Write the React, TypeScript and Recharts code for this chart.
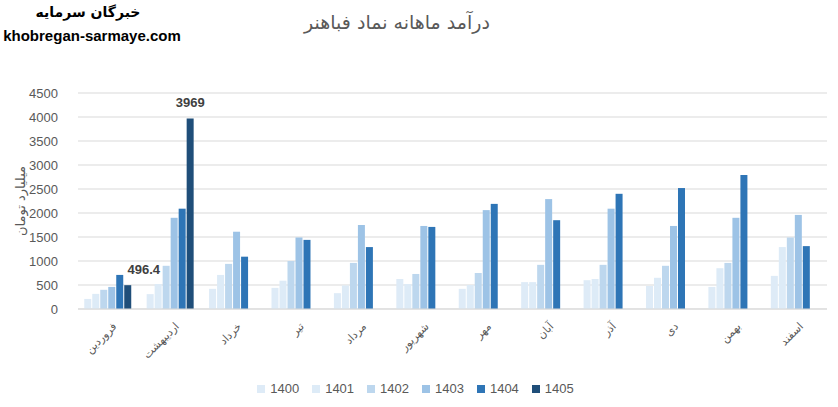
import React from "react";
import {
  BarChart,
  Bar,
  XAxis,
  YAxis,
  CartesianGrid,
  Legend,
  LabelList,
  Label,
} from "recharts";

const months = [
  "فروردین",
  "اردیبهشت",
  "خرداد",
  "تیر",
  "مرداد",
  "شهریور",
  "مهر",
  "آبان",
  "آذر",
  "دی",
  "بهمن",
  "اسفند",
];

const y1400 = [210, 310, 420, 440, 330, 625, 420, 560, 600, 480, 460, 690];
const y1401 = [315, 520, 710, 590, 490, 520, 500, 560, 625, 650, 850, 1290];
const y1402 = [400, 900, 940, 1000, 960, 730, 750, 920, 920, 900, 960, 1490];
const y1403 = [460, 1900, 1610, 1490, 1750, 1730, 2060, 2290, 2090, 1730, 1900, 1960];
const y1404 = [710, 2090, 1090, 1440, 1290, 1710, 2190, 1850, 2400, 2520, 2790, 1310];
const y1405 = [496.4, 3969, null, null, null, null, null, null, null, null, null, null];

const yTicks = [0, 500, 1000, 1500, 2000, 2500, 3000, 3500, 4000, 4500];

const SERIES = [
  { key: "1400", values: y1400, color: "#DEEBF7" },
  { key: "1401", values: y1401, color: "#DDEBF7" },
  { key: "1402", values: y1402, color: "#BDD7EE" },
  { key: "1403", values: y1403, color: "#9DC3E6" },
  { key: "1404", values: y1404, color: "#2E75B6" },
  { key: "1405", values: y1405, color: "#1F4E79" },
];

const data = months.map((month, i) => {
  const row: { [key: string]: any } = { month };
  SERIES.forEach((s) => {
    row[s.key] = s.values[i];
  });
  return row;
});

const FA_FONT = "'DejaVu Sans', sans-serif";
const NUM_FONT = "'Liberation Sans', Arial, sans-serif";

function MonthTick(props: any) {
  const { x, y, payload } = props;
  return (
    <g transform={`translate(${x + 6},${y + 8})`}>
      <text
        transform="rotate(-45)"
        textAnchor="end"
        dominantBaseline="middle"
        fill="#595959"
        fontSize={11}
        fontFamily={FA_FONT}
      >
        {payload.value}
      </text>
    </g>
  );
}

function ValueLabel(props: any) {
  const { x, y, width, value, index } = props;
  if (value == null) return null;
  // the first label sits to the right of its bar, as in the source
  const dx = index === 0 ? 16 : 0;
  return (
    <text
      x={x + width / 2 + dx}
      y={y - 11}
      textAnchor="middle"
      fill="#404040"
      fontSize={13}
      fontWeight="bold"
      fontFamily={NUM_FONT}
    >
      {value}
    </text>
  );
}

function LegendContent() {
  return (
    <div
      style={{
        display: "flex",
        justifyContent: "center",
        gap: 13,
        paddingLeft: 4,
        fontFamily: NUM_FONT,
        fontSize: 13,
        color: "#595959",
      }}
    >
      {SERIES.map((s) => (
        <div key={s.key} style={{ display: "flex", alignItems: "center" }}>
          <span
            style={{
              width: 8,
              height: 8,
              background: s.color,
              display: "inline-block",
              marginRight: 5,
            }}
          />
          <span>{s.key}</span>
        </div>
      ))}
    </div>
  );
}

export default function App() {
  return (
    <div style={{ position: "relative", width: 838, height: 407, background: "#fff" }}>
      <style>{"body{margin:0}"}</style>
      <BarChart
        width={838}
        height={407}
        data={data}
        margin={{ top: 93, right: 11, bottom: 6, left: 0 }}
        barCategoryGap="10%"
        barGap={1}
      >
        <text
          x={88}
          y={17}
          textAnchor="middle"
          fontFamily={FA_FONT}
          fontWeight="bold"
          fontSize={14}
          fill="#000"
        >
          خبرگان سرمایه
        </text>
        <text
          x={92}
          y={41}
          textAnchor="middle"
          fontFamily={NUM_FONT}
          fontWeight="bold"
          fontSize={15}
          fill="#000"
        >
          khobregan-sarmaye.com
        </text>
        <text
          x={397}
          y={29}
          textAnchor="middle"
          fontFamily={FA_FONT}
          fontSize={19}
          fill="#595959"
        >
          درآمد ماهانه نماد فباهنر
        </text>
        <CartesianGrid vertical={false} stroke="#D9D9D9" />
        <XAxis
          dataKey="month"
          tickLine={false}
          axisLine={{ stroke: "#D9D9D9" }}
          interval={0}
          height={72}
          tick={<MonthTick />}
        />
        <YAxis
          width={78}
          ticks={yTicks}
          domain={[0, 4500]}
          axisLine={false}
          tickLine={false}
          tickMargin={14}
          tick={{ fill: "#595959", fontSize: 13, fontFamily: NUM_FONT }}
        >
          <Label
            value="میلیارد تومان"
            angle={-90}
            position="insideLeft"
            offset={20}
            style={{ textAnchor: "middle", fill: "#595959", fontSize: 13, fontFamily: FA_FONT }}
          />
        </YAxis>
        <Legend verticalAlign="bottom" height={20} content={<LegendContent />} />
        {SERIES.map((s) => (
          <Bar key={s.key} dataKey={s.key} fill={s.color} isAnimationActive={false}>
            {s.key === "1405" && <LabelList dataKey="1405" content={<ValueLabel />} />}
          </Bar>
        ))}
      </BarChart>
    </div>
  );
}
